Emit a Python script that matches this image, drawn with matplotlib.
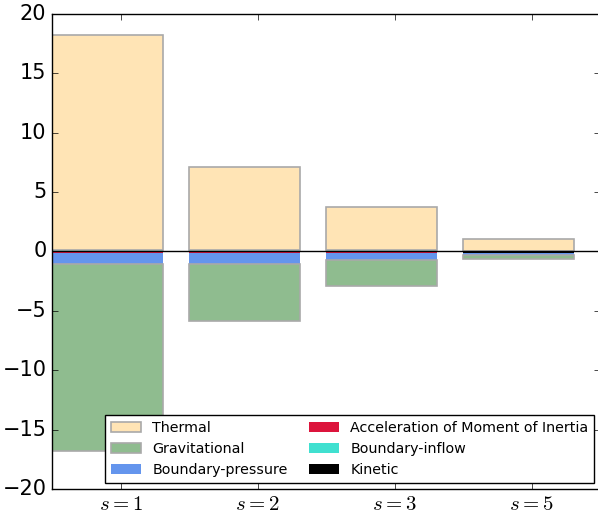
import numpy as np
import matplotlib
matplotlib.use("Agg")
import matplotlib.pyplot as plt
from matplotlib.patches import Patch

plt.style.use("classic")

# Data
labels = ["$s=1$", "$s=2$", "$s=3$", "$s=5$"]
thermal = [18.1, 7.0, 3.65, 1.0]
boundary_inflow = [0.1, 0.1, 0.08, 0.03]
kinetic = [-0.03, -0.03, -0.03, -0.12]
acceleration = [-0.1, -0.1, -0.08, -0.02]
boundary_pressure = [-0.95, -0.95, -0.65, -0.2]
gravitational = [-15.75, -4.75, -2.15, -0.3]

x = np.arange(len(labels))
width = 0.81

fig = plt.figure(figsize=(5.98, 5.19), dpi=100, facecolor="white")
ax = fig.add_axes([0.087, 0.058, 0.9164, 0.9152])

# Negative stack
bottom_neg = np.zeros(len(x))
ax.bar(x, kinetic, width, bottom=bottom_neg, align="edge", color="black", linewidth=0)
bottom_neg += kinetic
ax.bar(x, acceleration, width, bottom=bottom_neg, align="edge", color="crimson", linewidth=0)
bottom_neg += acceleration
ax.bar(x, boundary_pressure, width, bottom=bottom_neg, align="edge", color="cornflowerblue", linewidth=0)
bottom_neg += boundary_pressure
ax.bar(x, gravitational, width, bottom=bottom_neg, align="edge", color="darkseagreen",
       edgecolor="darkgray", linewidth=1.2)

# Positive stack
bottom_pos = np.zeros(len(x))
ax.bar(x, boundary_inflow, width, bottom=bottom_pos, align="edge", color="turquoise", linewidth=0)
bottom_pos += boundary_inflow
ax.bar(x, thermal, width, bottom=bottom_pos, align="edge", color="moccasin",
       edgecolor="darkgray", linewidth=1.2)

ax.axhline(0, color="black", linewidth=1)

# Legend in the original order
handles = [
    Patch(facecolor="moccasin", edgecolor="darkgray", linewidth=1.2, label="Thermal"),
    Patch(facecolor="darkseagreen", edgecolor="darkgray", linewidth=1.2, label="Gravitational"),
    Patch(facecolor="cornflowerblue", linewidth=0, label="Boundary-pressure"),
    Patch(facecolor="crimson", linewidth=0, label="Acceleration of Moment of Inertia"),
    Patch(facecolor="turquoise", linewidth=0, label="Boundary-inflow"),
    Patch(facecolor="black", linewidth=0, label="Kinetic"),
]
ax.legend(handles=handles, loc="lower right", ncol=2, fontsize=10.3,
          borderaxespad=0.4, handlelength=2.1, handletextpad=0.8, columnspacing=1.5)

ax.set_xlim(0, 4)
ax.set_ylim(-20, 20)
ax.set_xticks(x + 0.5)
ax.set_xticklabels(labels, fontsize=15)
ax.tick_params(axis="y", labelsize=15)

fig.savefig("out.png", dpi=100, facecolor="white")
